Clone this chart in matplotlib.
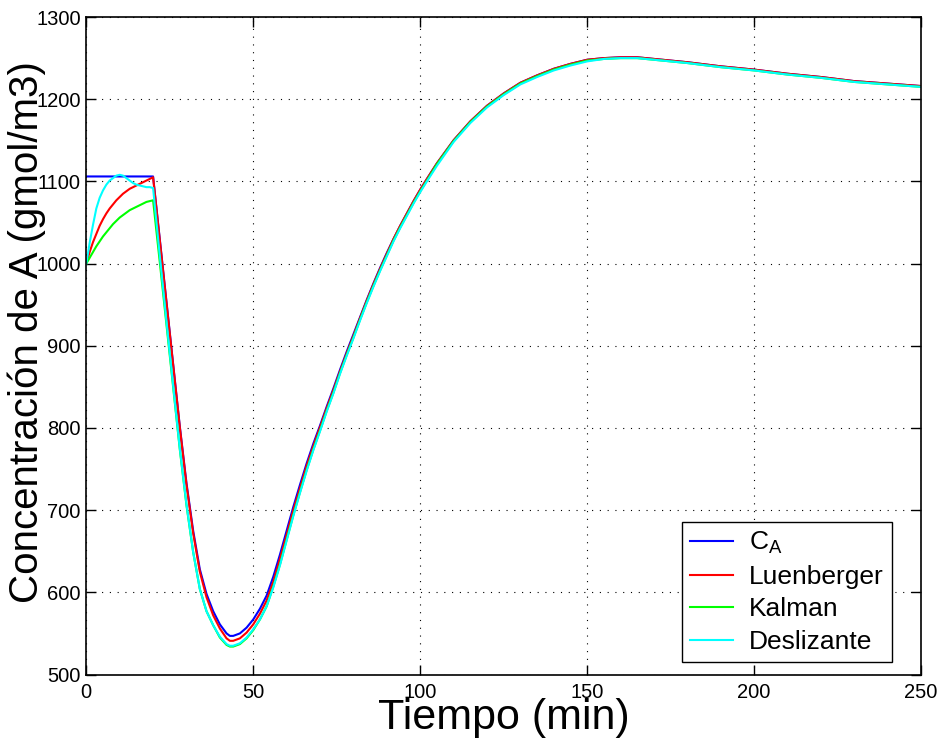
import matplotlib
matplotlib.use("Agg")
import matplotlib.pyplot as plt

plt.rcParams['font.family'] = ['Liberation Sans', 'DejaVu Sans']

# tiempo (min)
t = [0, 1, 2, 3, 4, 5, 6, 7, 8, 9, 10, 11, 12, 13, 14, 15, 16, 17, 18, 19, 20,
     22, 24, 26, 28, 30, 32, 34, 36, 38, 40, 42, 43, 44,
     46, 48, 50, 52, 54, 56, 58, 60, 62, 64, 66, 68, 70, 72, 74, 76, 78, 80,
     82, 84, 86, 88, 90, 92, 94, 96, 98, 100, 102,
     105, 110, 115, 120, 125, 130, 135, 140, 145, 150, 155, 160, 165, 170, 175, 180,
     190, 200, 210, 220, 230, 240, 250]

# concentracion real C_A
ca = [1106] * 21 + \
     [1030, 954, 878, 802, 733, 675, 628, 598, 577, 561, 550, 547, 547,
      550, 557, 567, 580, 596, 619, 646, 675, 704, 731, 757, 781, 803, 826, 848, 871, 893, 914,
      935, 956, 976, 995, 1013, 1030, 1046, 1061, 1076, 1090, 1103,
      1122, 1150, 1173, 1192, 1207, 1220, 1229, 1237, 1243, 1248, 1250, 1251, 1251, 1249, 1247, 1245,
      1240, 1236, 1231, 1227, 1222, 1219, 1216]

luenberger = [1000, 1014, 1026, 1036, 1046, 1054, 1061, 1067, 1072, 1077, 1081,
              1085, 1088, 1091, 1093, 1095, 1097, 1099, 1101, 1103, 1105,
              1029, 953, 877, 801, 731, 672, 625, 594, 572, 556, 544, 541, 541,
              544, 551, 561, 574, 590, 613, 641, 670, 700, 727, 754, 778, 801, 824, 846, 869, 891, 912,
              934, 955, 975, 994, 1012, 1030, 1046, 1061, 1076, 1090, 1103,
              1122, 1150, 1173, 1192, 1207, 1220, 1229, 1237, 1243, 1248, 1250, 1251, 1251, 1249, 1247, 1245,
              1240, 1236, 1231, 1227, 1222, 1219, 1216]

kalman = [1000, 1007, 1014, 1021, 1027, 1033, 1038, 1043, 1048, 1052, 1056,
          1059, 1062, 1065, 1067, 1069, 1071, 1073, 1075, 1076, 1077,
          1002, 926, 850, 774, 706, 649, 604, 577, 560, 545, 536, 534, 534,
          537, 544, 554, 567, 583, 607, 634, 664, 694, 722, 749, 774, 797, 821, 843, 867, 889, 910,
          932, 953, 973, 992, 1010, 1028, 1044, 1059, 1074, 1088, 1101,
          1121, 1149, 1172, 1191, 1206, 1219, 1228, 1236, 1242, 1247, 1249, 1250, 1250, 1248, 1246, 1244,
          1239, 1235, 1230, 1226, 1221, 1218, 1215]

deslizante = [1000, 1025, 1047, 1067, 1080, 1089, 1096, 1101, 1104, 1107, 1108,
              1107, 1104, 1101, 1098, 1096, 1095, 1094, 1093, 1093, 1092,
              1010, 930, 852, 775, 707, 649, 604, 577, 560, 546, 537, 535, 535,
              538, 545, 555, 567, 583, 606, 633, 663, 693, 721, 748, 773, 796, 820, 842, 866, 888, 909,
              931, 952, 972, 991, 1009, 1027, 1043, 1058, 1073, 1087, 1100,
              1119, 1148, 1171, 1190, 1205, 1218, 1227, 1235, 1241, 1246, 1249, 1250, 1250, 1248, 1246, 1244,
              1239, 1235, 1230, 1226, 1221, 1218, 1215]

xticks = [0, 50, 100, 150, 200, 250]
yticks = [500, 600, 700, 800, 900, 1000, 1100, 1200, 1300]

fig = plt.figure(figsize=(9.38, 7.40), dpi=100)
ax = fig.add_axes([0.092, 0.0885, 0.890, 0.8885])

ax.plot(t, ca, color=(0, 0, 1), lw=1.5, label=r'C$_\mathregular{A}$')
ax.plot(t, luenberger, color=(1, 0, 0), lw=1.5, label='Luenberger')
ax.plot(t, kalman, color=(0, 1, 0), lw=1.5, label='Kalman')
ax.plot(t, deslizante, color=(0, 1, 1), lw=1.5, label='Deslizante')

ax.set_xlim(0, 250)
ax.set_ylim(500, 1300)
ax.set_xticks(xticks)
ax.set_yticks(yticks)
ax.grid(True, color='black', linestyle=(0, (1, 6)), linewidth=0.8)
ax.tick_params(direction='in', length=7, width=1, top=True, right=True, labelsize=14.5)
ax.tick_params(axis='x', pad=6)
ax.tick_params(axis='y', pad=4)
for s in ax.spines.values():
    s.set_linewidth(1.2)

ax.set_xlabel('Tiempo (min)', fontsize=31)
ax.set_ylabel('Concentración de A (gmol/m3)', fontsize=29)
ax.xaxis.set_label_coords(0.5, -0.036)
ax.yaxis.set_label_coords(-0.048, 0.521)

leg = ax.legend(loc='lower right', bbox_to_anchor=(0.965, 0.0195), borderaxespad=0,
                fontsize=19, handlelength=1.65, handletextpad=0.6, borderpad=0.3,
                labelspacing=0.32, fancybox=False, framealpha=1, edgecolor='black')
leg.get_frame().set_linewidth(1.0)

fig.savefig('out.png', dpi=100)
